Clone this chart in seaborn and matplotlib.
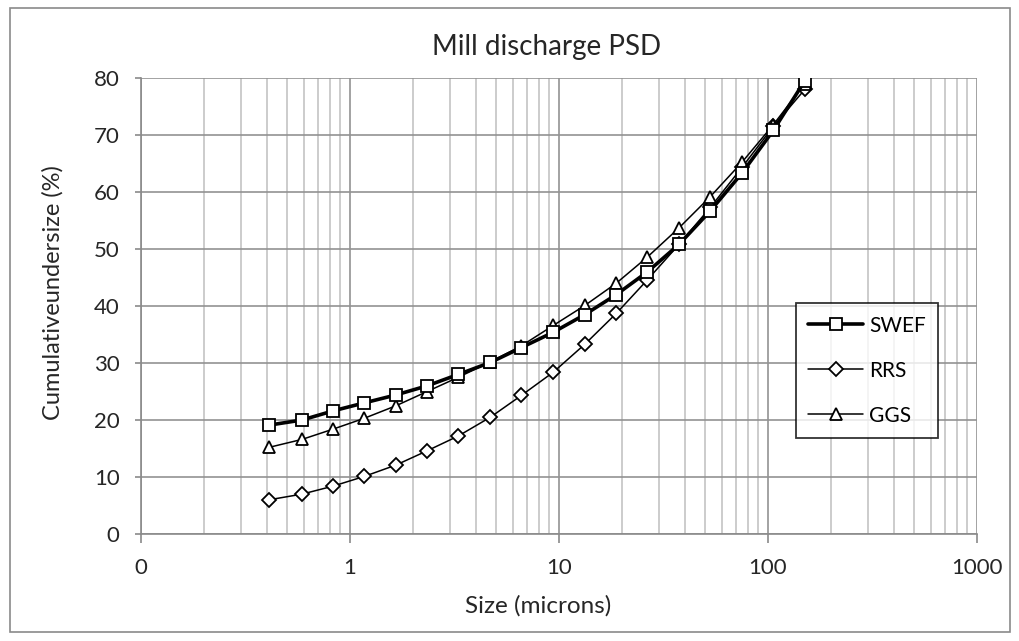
import matplotlib
matplotlib.use("Agg")
import matplotlib.pyplot as plt
import seaborn as sns
import pandas as pd
import numpy as np
from matplotlib.patches import Rectangle
from matplotlib.ticker import FixedLocator, NullFormatter

sizes = [0.41, 0.59, 0.83, 1.17, 1.66, 2.34, 3.3, 4.7, 6.6, 9.4, 13.3, 18.8, 26.5, 37.5, 53, 75, 106, 150]
swef = [19.1, 20.0, 21.6, 23.0, 24.4, 26.0, 28.0, 30.1, 32.7, 35.4, 38.5, 42.0, 46.0, 50.8, 56.7, 63.3, 70.8, 79.5]
rrs = [6.0, 7.0, 8.4, 10.1, 12.1, 14.6, 17.2, 20.5, 24.3, 28.4, 33.3, 38.7, 44.6, 50.8, 57.3, 64.3, 71.5, 78.0]
ggs = [15.2, 16.6, 18.4, 20.3, 22.5, 25.0, 27.5, 30.2, 33.0, 36.6, 40.1, 44.0, 48.6, 53.7, 59.2, 65.2, 71.8, 79.0]
series_names = ["SWEF", "RRS", "GGS"]
xtick_vals = [0.1, 1, 10, 100, 1000]
xtick_labels = ["0", "1", "10", "100", "1000"]
ytick_vals = [0, 10, 20, 30, 40, 50, 60, 70, 80]

sns.set_style("white")
plt.rcParams['font.family'] = ['Lato', 'DejaVu Sans']

W, H = 1019, 641
fig = plt.figure(figsize=(W / 100, H / 100), dpi=100)
L, R, T, B = 141, 977, 78, 534
ax = fig.add_axes([L / W, 1 - B / H, (R - L) / W, (B - T) / H])

df = pd.DataFrame({"size": sizes * 3,
                   "value": swef + rrs + ggs,
                   "series": [s for s in series_names for _ in sizes]})

styles = {"SWEF": dict(marker="s", lw=2.6, ms=9),
          "RRS": dict(marker="D", lw=1.1, ms=7.5),
          "GGS": dict(marker="^", lw=1.1, ms=9)}
for name in series_names:
    st = styles[name]
    sns.lineplot(data=df[df.series == name], x="size", y="value", ax=ax,
                 color="black", lw=st["lw"], marker=st["marker"], markersize=st["ms"],
                 markerfacecolor="white", markeredgecolor="black", markeredgewidth=1.3,
                 label=name, zorder=3 if name == "SWEF" else 2)

ax.set_xscale("log")
ax.set_xlim(0.1, 1000)
ax.set_ylim(0, 80)
ax.xaxis.set_major_locator(FixedLocator(xtick_vals))
ax.set_xticklabels(xtick_labels)
minor = [m * 10.0**e for e in range(-1, 3) for m in range(2, 10)]
ax.xaxis.set_minor_locator(FixedLocator(minor))
ax.xaxis.set_minor_formatter(NullFormatter())
ax.set_yticks(ytick_vals)

ax.grid(True, which="major", axis="both", color="#929292", lw=1.2)
ax.grid(True, which="minor", axis="x", color="#c4c4c4", lw=1.2)
ax.set_axisbelow(True)

for s in ["top", "right"]:
    ax.spines[s].set_visible(False)
for s in ["left", "bottom"]:
    ax.spines[s].set_color("#8a8a8a")
    ax.spines[s].set_linewidth(1.2)
ax.tick_params(axis="both", which="major", direction="out", width=1.2,
               color="#8a8a8a", labelsize=16)
ax.tick_params(axis="y", which="major", length=4.5, pad=11)
ax.tick_params(axis="x", which="major", length=6.5, pad=11)
ax.tick_params(axis="x", which="minor", length=0)
ax.tick_params(left=True, bottom=True)

ax.set_xlabel("Size (microns)", fontsize=17.5)
ax.xaxis.set_label_coords((538 - L) / (R - L), -(595 - B) / (B - T))
ax.set_ylabel("Cumulativeundersize (%)", fontsize=17)
ax.yaxis.set_label_coords(-(L - 64) / (R - L), (B - 293) / (B - T))
fig.text(547 / W, 1 - 47 / H, "Mill discharge PSD", fontsize=20,
         ha="center", va="center")

leg = ax.legend(loc="upper left", bbox_to_anchor=((796 - L) / (R - L), 1 - (303 - T) / (B - T)),
                frameon=True, fancybox=False, fontsize=15, labelspacing=1.2,
                handlelength=2.6, handletextpad=0.3, borderpad=0.6, borderaxespad=0)
leg.get_frame().set_edgecolor("black")
leg.get_frame().set_linewidth(1.3)
for t in leg.get_texts():
    t.set_color("black")

fig.patches.append(Rectangle((10 / W, 1 - 632 / H), 1000 / W, 624 / H,
                             transform=fig.transFigure, fill=False,
                             edgecolor="#8a8a8a", lw=1.2))

fig.savefig("out.png", dpi=100)
